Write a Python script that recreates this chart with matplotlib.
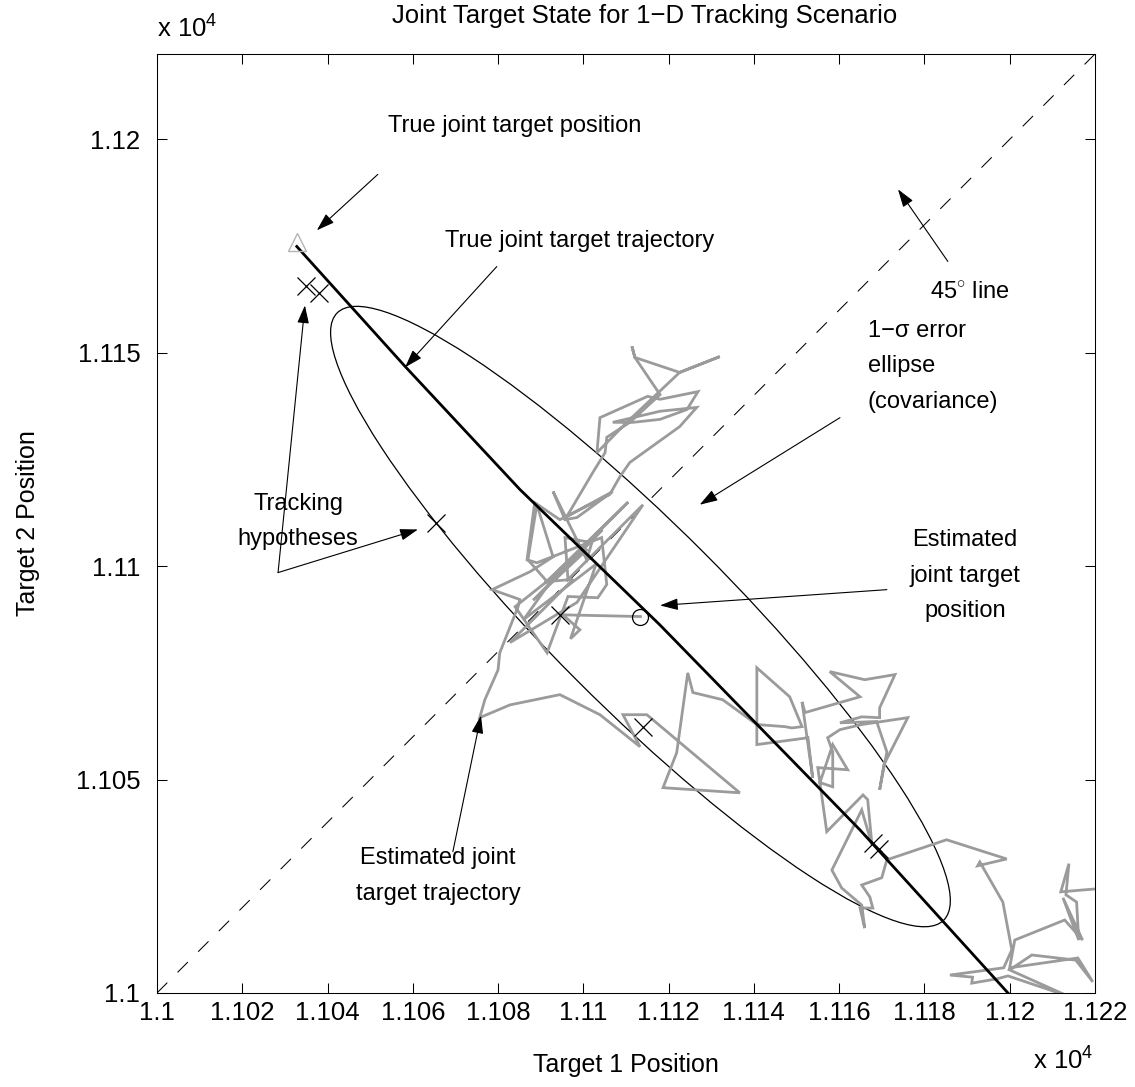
import matplotlib
matplotlib.use('Agg')
import matplotlib.pyplot as plt
from matplotlib.patches import Ellipse
from matplotlib.ticker import FuncFormatter, MultipleLocator

# Data
# True joint target trajectory (target 1, target 2)
true_x = [11032.8, 11058.2, 11085.1, 11117.9, 11164.9, 11199.6]
true_y = [11174.9, 11146.8, 11118.0, 11086.3, 11038.2, 11000.0]
true_pos = (11032.8, 11175.9)

# Estimated joint target position and 1-sigma ellipse
est_pos = (11113.4, 11088.2)
ell_semi = (100.6, 21.1)
ell_angle = -45.0

# Tracking hypotheses
hyp_x = [11034.9, 11038.0, 11065.4, 11094.5, 11114.0, 11167.9, 11169.3]
hyp_y = [11165.6, 11163.9, 11110.2, 11088.6, 11062.4, 11035.2, 11033.8]

# Estimated joint target trajectory
est_x = [11220.4, 11212.0, 11213.9, 11213.2, 11215.7, 11216.2, 11212.5, 11217.1, 11212.9, 11201.2,
         11200.0, 11216.0, 11219.5, 11215.5, 11205.2, 11200.0, 11213.6, 11199.6, 11197.0, 11191.1,
         11191.3, 11186.0, 11198.6, 11200.5, 11198.4, 11193.0, 11192.5, 11199.3, 11185.2, 11171.2,
         11170.0, 11165.3, 11167.2, 11167.9, 11164.9, 11166.0, 11165.3, 11160.6, 11158.3, 11165.3,
         11167.7, 11166.7, 11165.6, 11157.1, 11155.0, 11162.0, 11158.5, 11155.5, 11158.5, 11158.5,
         11157.3, 11160.2, 11165.3, 11176.1, 11170.5, 11169.5, 11171.2, 11168.8, 11160.2, 11165.3,
         11169.5, 11169.5, 11173.1, 11166.0, 11157.8, 11164.9, 11152.0, 11151.3, 11153.8, 11152.7,
         11140.7, 11140.7, 11148.4, 11151.3, 11148.9, 11147.3, 11140.7, 11132.7, 11125.7, 11124.5,
         11121.9, 11118.7, 11136.7, 11114.9, 11109.3, 11113.3, 11103.9, 11094.5, 11082.8, 11075.7,
         11076.9, 11080.0, 11080.4, 11084.7, 11085.1, 11078.6, 11087.5, 11092.9, 11089.1, 11087.0,
         11091.5, 11097.6, 11082.8, 11098.5, 11114.0, 11096.4, 11095.7, 11102.0, 11100.8, 11092.9,
         11095.7, 11098.5, 11106.9, 11096.1, 11102.2, 11105.1, 11105.5, 11110.9, 11118.0, 11112.1,
         11111.4, 11112.1, 11122.6, 11132.0, 11122.6, 11110.2, 11103.2, 11103.9, 11115.1, 11118.0,
         11126.9, 11124.3, 11118.0, 11111.6, 11106.9, 11118.0, 11126.6, 11122.6, 11110.9, 11108.6,
         11106.2, 11094.5, 11088.6, 11086.8, 11089.1, 11104.3, 11105.5, 11103.4, 11096.4, 11091.5,
         11084.0, 11101.0, 11088.2, 11104.5, 11091.0, 11110.5, 11093.5, 11086.0, 11103.0, 11097.0,
         11099.2, 11095.2, 11113.4]
est_y = [11024.4, 11023.7, 11030.3, 11023.0, 11021.3, 11012.4, 11022.3, 11012.4, 11017.1, 11012.4,
         11005.9, 11008.2, 11002.6, 11007.7, 11008.9, 11005.4, 10999.3, 11004.0, 11003.3, 11002.3,
         11003.7, 11004.2, 11005.9, 11010.1, 11021.3, 11030.7, 11029.8, 11031.4, 11035.9, 11031.2,
         11027.0, 11025.3, 11022.5, 11019.9, 11019.9, 11015.2, 11020.6, 11024.6, 11028.8, 11042.9,
         11034.7, 11045.3, 11046.4, 11037.8, 11052.8, 11052.3, 11058.2, 11049.3, 11048.3, 11056.5,
         11059.8, 11061.7, 11062.9, 11064.5, 11053.5, 11047.6, 11056.5, 11063.6, 11063.3, 11064.7,
         11064.5, 11066.8, 11074.6, 11073.4, 11075.3, 11069.4, 11065.7, 11068.2, 11050.4, 11059.8,
         11058.2, 11076.2, 11069.4, 11062.4, 11062.1, 11062.4, 11062.9, 11068.7, 11070.4, 11075.0,
         11056.3, 11048.1, 11046.9, 11065.2, 11065.2, 11057.7, 11065.2, 11069.9, 11067.5, 11064.5,
         11068.7, 11075.7, 11079.7, 11090.5, 11092.2, 11094.5, 11098.7, 11102.2, 11114.4, 11101.5,
         11096.4, 11096.9, 11082.1, 11091.5, 11114.4, 11096.9, 11106.7, 11105.5, 11101.5, 11117.5,
         11110.9, 11111.4, 11117.5, 11111.6, 11121.9, 11126.6, 11130.2, 11133.7, 11140.2, 11148.9,
         11151.5, 11148.9, 11145.4, 11149.1, 11145.4, 11133.7, 11126.6, 11134.8, 11139.8, 11139.1,
         11140.9, 11136.7, 11134.4, 11133.7, 11133.7, 11136.3, 11137.2, 11132.7, 11124.3, 11121.0,
         11116.8, 11110.9, 11114.9, 11101.5, 11100.8, 11106.7, 11095.7, 11092.6, 11092.9, 11079.7,
         11090.5, 11104.0, 11092.0, 11108.5, 11096.0, 11115.0, 11098.0, 11087.5, 11100.5, 11083.0,
         11085.1, 11088.6, 11088.2]

lim = (11000, 11220)

plt.rc('font', family='Liberation Sans', size=17)
plt.rc('xtick', labelsize=18.5)
plt.rc('ytick', labelsize=18.5)
plt.rc('axes', labelsize=18, linewidth=0.75)
plt.rc('mathtext', fontset='custom', rm='Liberation Sans', it='Liberation Sans:italic')

fig = plt.figure(figsize=(11.35, 10.87), dpi=100)
ax = fig.add_axes([0.1383, 0.0865, 0.8264, 0.8638])

# 45 degree line
ax.plot(lim, lim, color='k', lw=0.75, linestyle=(0, (14, 14)))

# estimated trajectory and true trajectory
ax.plot(est_x, est_y, color='#9b9b9b', lw=2.0, solid_joinstyle='miter')
ax.plot(true_x, true_y, color='k', lw=2.0)

ell = Ellipse(est_pos, 2 * ell_semi[0], 2 * ell_semi[1], angle=ell_angle,
              fill=False, edgecolor='k', lw=0.9)
ax.add_patch(ell)

ax.plot(hyp_x, hyp_y, 'x', color='k', ms=13, mew=0.9)
ax.plot(*true_pos, '^', mfc='none', mec='#b4b4b4', ms=13, mew=1.0)
ax.plot(*est_pos, 'o', mfc='none', mec='k', ms=11.5, mew=0.9)

# annotations
arrow = dict(arrowstyle='-|>,head_length=1.1,head_width=0.36',
             mutation_scale=10, color='k', lw=0.8, shrinkA=0, shrinkB=0)


def note(tip, tail):
    ax.annotate('', xy=tip, xytext=tail, arrowprops=arrow)


note((11037.5, 11178.7), (11051.8, 11191.8))
ax.text(11054.2, 11203.1, 'True joint target position', va='center', ha='left')

note((11058.2, 11146.6), (11079.7, 11170.2))
ax.text(11067.5, 11176.1, 'True joint target trajectory', va='center', ha='left')

note((11173.8, 11188.3), (11185.5, 11171.4))
ax.text(11181.3, 11164.2, r'45$^{\circ}$ line', va='center', ha='left')

note((11127.3, 11114.4), (11160.2, 11134.8))
ax.text(11166.7, 11146.8, '1\u2212\u03c3 error\nellipse\n(covariance)',
        va='center', ha='left', linespacing=1.8)

note((11118.0, 11090.8), (11171.2, 11094.5))
ax.text(11189.5, 11097.8, 'Estimated\njoint target\nposition',
        va='center', ha='center', linespacing=1.8)

note((11034.7, 11161.1), (11028.4, 11098.5))
note((11061.2, 11108.6), (11028.4, 11098.5))
ax.text(11033.1, 11110.5, 'Tracking\nhypotheses', va='center', ha='center',
        linespacing=1.75)

note((11076.0, 11065.0), (11069.4, 11033.1))
ax.text(11065.9, 11027.4, 'Estimated joint\ntarget trajectory',
        va='center', ha='center', linespacing=1.8)

# axes styling
ax.set_xlim(lim)
ax.set_ylim(lim)
ax.xaxis.set_major_locator(MultipleLocator(20))
ax.yaxis.set_major_locator(MultipleLocator(50))
fmt = FuncFormatter(lambda v, p: '%g' % (v / 1e4))
ax.xaxis.set_major_formatter(fmt)
ax.yaxis.set_major_formatter(fmt)
ax.tick_params(direction='in', top=True, right=True, length=7, width=0.75)
ax.tick_params(axis='x', pad=6)
ax.tick_params(axis='y', pad=12)

ax.text(0.0, 1.017, r'x 10$^4$', transform=ax.transAxes, ha='left', va='baseline',
        fontsize=18.5)
ax.text(0.934, -0.082, r'x 10$^4$', transform=ax.transAxes, ha='left', va='baseline',
        fontsize=18.5)
ax.text(0.52, 1.033, 'Joint Target State for 1\u2212D Tracking Scenario',
        transform=ax.transAxes, ha='center', va='baseline', fontsize=18.5)
ax.set_xlabel('Target 1 Position', labelpad=20)
ax.set_ylabel('Target 2 Position', labelpad=26)

plt.savefig('out.png', dpi=100)
